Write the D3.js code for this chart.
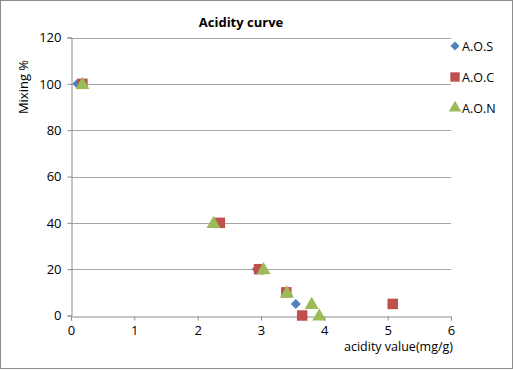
<!DOCTYPE html>
<html>
<head>
<script src="https://d3js.org/d3.v7.min.js"></script>
<style>
  body { margin: 0; background: #fff; }
  svg { display: block; font-family: "Open Sans", "Liberation Sans", sans-serif; }
</style>
</head>
<body>
<svg id="chart" width="513" height="370"></svg>
<script>
// series data
var aosX = [0.1, 2.3, 2.93, 3.4, 3.55];
var aosY = [100, 40, 20, 10, 5];
var aocX = [0.18, 2.35, 2.97, 3.4, 3.65, 5.08];
var aocY = [100, 40, 20, 10, 0, 5];
var aonX = [0.18, 2.25, 3.04, 3.41, 3.8, 3.92];
var aonY = [100, 40, 20, 10, 5, 0];
var seriesNames = ["A.O.S", "A.O.C", "A.O.N"];
var xTicks = [0, 1, 2, 3, 4, 5, 6];
var yTicks = [0, 20, 40, 60, 80, 100, 120];

var colors = ["#4F81BD", "#C0504D", "#9BBB59"];

// excel-like marker shapes
var diamond = { draw: function (ctx, size) { var r = Math.sqrt(size / 2); ctx.moveTo(0, -r); ctx.lineTo(r, 0); ctx.lineTo(0, r); ctx.lineTo(-r, 0); ctx.closePath(); } };
var shapes = [diamond, d3.symbolSquare, d3.symbolTriangle];
var sizes = [50, 110, 85];

var svg = d3.select("#chart");

// outer frame
svg.append("rect").attr("x", 0.5).attr("y", 0.5).attr("width", 512).attr("height", 368)
  .attr("fill", "#fff").attr("stroke", "#8c8c8c");

var x = d3.scaleLinear().domain([0, 6]).range([71, 451]);
var y = d3.scaleLinear().domain([0, 120]).range([315.5, 37.5]);

// gridlines
svg.append("g").selectAll("line").data(yTicks.filter(function (d) { return d > 0; }))
  .join("line")
  .attr("x1", x(0)).attr("x2", x(6))
  .attr("y1", function (d) { return Math.round(y(d)) + 0.5; })
  .attr("y2", function (d) { return Math.round(y(d)) + 0.5; })
  .attr("stroke", "#a6a6a6");

var yAxis = svg.append("g").attr("transform", "translate(" + (x(0) + 0.5) + ",0)")
  .call(d3.axisLeft(y).tickValues(yTicks).tickSize(4).tickPadding(6).tickFormat(d3.format("d")));
var xAxis = svg.append("g").attr("transform", "translate(0," + (Math.round(y(0)) + 0.5) + ")")
  .call(d3.axisBottom(x).tickValues(xTicks).tickSize(4).tickPadding(5).tickFormat(d3.format("d")));

[xAxis, yAxis].forEach(function (a) {
  a.select(".domain").attr("stroke", "#8c8c8c");
  a.selectAll(".tick line").attr("stroke", "#8c8c8c");
  a.selectAll(".tick text").attr("fill", "#000").style("font-size", "13px")
    .style("font-family", "'Open Sans', 'Liberation Sans', sans-serif");
});

// markers
var allSeries = [[aosX, aosY], [aocX, aocY], [aonX, aonY]];
allSeries.forEach(function (s, i) {
  var pts = s[0].map(function (v, j) { return [v, s[1][j]]; });
  svg.append("g").selectAll("path").data(pts).join("path")
    .attr("d", d3.symbol().type(shapes[i]).size(sizes[i]))
    .attr("transform", function (d) { return "translate(" + x(d[0]) + "," + (y(d[1]) + (i == 2 ? 1 : 0)) + ")"; })
    .attr("fill", colors[i]);
});

// title and axis labels
svg.append("text").attr("x", 241).attr("y", 27).attr("text-anchor", "middle")
  .style("font-size", "13px").style("font-weight", "bold").text("Acidity curve");
svg.append("text").attr("x", 453).attr("y", 351).attr("text-anchor", "end")
  .style("font-size", "12.5px").text("acidity value(mg/g)");
svg.append("text").attr("transform", "translate(28,87) rotate(-90)").attr("text-anchor", "middle")
  .style("font-size", "13px").text("Mixing %");

// legend
var legend = svg.append("g").selectAll("g").data(seriesNames).join("g")
  .attr("transform", function (d, i) { return "translate(455," + (46 + i * 31) + ")"; });
legend.append("path")
  .attr("d", function (d, i) { return d3.symbol().type(shapes[i]).size(sizes[i] * 0.8)(); })
  .attr("fill", function (d, i) { return colors[i]; });
legend.append("text").attr("x", 7).attr("y", 4.5)
  .style("font-size", "12.5px").text(function (d) { return d; });
</script>
</body>
</html>
